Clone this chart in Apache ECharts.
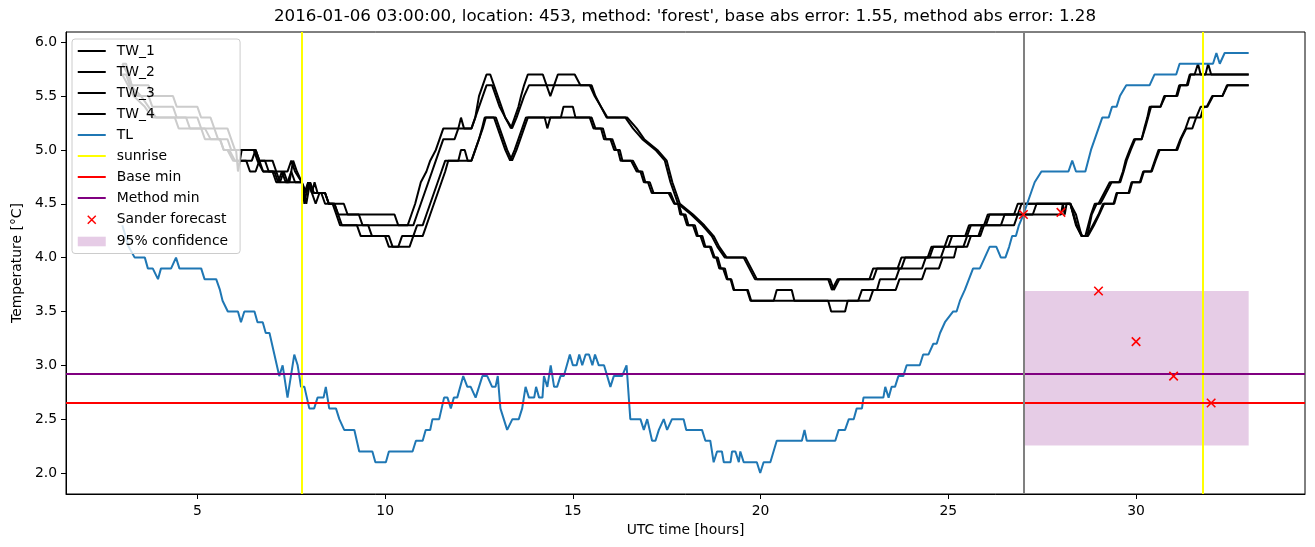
<!DOCTYPE html>
<html>
<head>
<meta charset="utf-8">
<title>Sander forecast</title>
<script src="https://cdn.jsdelivr.net/npm/echarts@6/dist/echarts.min.js"></script>
<style>
html, body { margin: 0; padding: 0; background: #fff; }
#chart { width: 1315px; height: 547px; }
</style>
</head>
<body>
<div id="chart"></div>
<script>
// all values: [UTC hour, temperature degC]
var tw1 = [[3.0,5.8],[3.1,5.8],[3.25,5.6],[3.7,5.6],[3.8,5.5],[4.35,5.5],[4.45,5.4],[5.0,5.4],[5.1,5.3],[5.35,5.3],[5.45,5.2],[5.8,5.2],[5.9,5.1],[6.0,5.0],[6.55,5.0],[6.65,4.9],[7.0,4.9],[7.1,4.8],[7.4,4.8],[7.5,4.9],[7.6,4.8],[7.78,4.7],[7.9,4.5],[8.0,4.7],[8.1,4.6],[8.4,4.6],[8.5,4.5],[8.9,4.5],[9.0,4.4],[10.25,4.4],[10.35,4.3],[10.6,4.3],[10.7,4.4],[10.8,4.5],[10.95,4.7],[11.1,4.8],[11.2,4.9],[11.35,5.0],[11.45,5.1],[11.55,5.2],[11.95,5.2],[12.02,5.3],[12.1,5.2],[12.3,5.2],[12.4,5.3],[12.5,5.5],[12.6,5.6],[12.7,5.7],[12.8,5.7],[12.9,5.6],[13.0,5.5],[13.1,5.4],[13.2,5.3],[13.35,5.2],[13.45,5.3],[13.55,5.4],[13.62,5.5],[13.7,5.6],[13.8,5.7],[14.2,5.7],[14.3,5.6],[14.4,5.5],[14.5,5.6],[14.6,5.7],[15.05,5.7],[15.2,5.6],[15.5,5.6],[15.6,5.5],[15.75,5.4],[15.9,5.3],[16.4,5.3],[16.6,5.2],[16.85,5.1],[17.2,5.0],[17.45,4.9],[17.6,4.7],[17.8,4.5],[18.15,4.4],[18.45,4.3],[18.7,4.2],[18.85,4.1],[19.05,4.0],[19.55,4.0],[19.7,3.9],[19.85,3.8],[21.8,3.8],[21.9,3.7],[22.05,3.8],[22.9,3.8],[23.0,3.9],[23.65,3.9],[23.75,4.0],[24.45,4.0],[24.55,4.1],[24.9,4.1],[25.0,4.2],[25.45,4.2],[25.55,4.3],[25.95,4.3],[26.05,4.4],[26.75,4.4],[26.85,4.5],[28.25,4.5],[28.4,4.3],[28.55,4.2],[28.65,4.2],[28.8,4.4],[28.9,4.5],[29.0,4.5],[29.15,4.6],[29.3,4.7],[29.55,4.7],[29.65,4.8],[29.72,4.9],[29.83,5.0],[29.95,5.1],[30.15,5.1],[30.22,5.2],[30.3,5.3],[30.36,5.4],[30.65,5.4],[30.75,5.5],[31.07,5.5],[31.15,5.6],[31.35,5.6],[31.43,5.7],[31.56,5.7],[31.65,5.8],[31.72,5.7],[31.85,5.7],[31.92,5.8],[32.0,5.7],[33.0,5.7]];
var tw2 = [[3.0,5.8],[3.15,5.7],[3.25,5.6],[3.4,5.5],[3.7,5.5],[3.8,5.4],[4.35,5.4],[4.45,5.3],[5.0,5.3],[5.1,5.2],[5.45,5.2],[5.55,5.1],[5.8,5.1],[5.9,5.0],[6.03,5.0],[6.08,4.8],[6.18,5.0],[6.5,5.0],[6.6,4.9],[6.75,4.8],[7.05,4.8],[7.15,4.7],[7.25,4.8],[7.35,4.7],[7.45,4.7],[7.55,4.9],[7.65,4.8],[7.78,4.7],[7.85,4.6],[7.95,4.7],[8.05,4.6],[8.12,4.7],[8.2,4.6],[8.4,4.6],[8.5,4.5],[8.65,4.5],[8.75,4.4],[9.3,4.4],[9.4,4.3],[10.75,4.3],[10.85,4.4],[10.95,4.5],[11.05,4.6],[11.15,4.7],[11.25,4.8],[11.35,4.9],[11.45,5.0],[11.55,5.1],[11.85,5.1],[11.95,5.2],[12.3,5.2],[12.4,5.3],[12.5,5.4],[12.6,5.5],[12.7,5.6],[12.85,5.6],[12.95,5.5],[13.05,5.4],[13.2,5.3],[13.38,5.2],[13.5,5.3],[13.6,5.4],[13.7,5.5],[13.83,5.6],[15.45,5.6],[15.58,5.5],[15.75,5.4],[15.92,5.3],[16.45,5.3],[16.7,5.2],[16.9,5.1],[17.25,5.0],[17.5,4.9],[17.65,4.7],[17.85,4.5],[18.2,4.4],[18.5,4.3],[18.75,4.2],[18.9,4.1],[19.1,4.0],[19.6,4.0],[19.75,3.9],[19.9,3.8],[21.85,3.8],[21.95,3.7],[22.1,3.8],[23.0,3.8],[23.1,3.9],[23.75,3.9],[23.85,4.0],[24.5,4.0],[24.6,4.1],[25.0,4.1],[25.1,4.2],[25.5,4.2],[25.6,4.3],[26.0,4.3],[26.1,4.4],[26.85,4.4],[26.95,4.5],[28.25,4.5],[28.42,4.3],[28.55,4.2],[28.7,4.2],[28.82,4.4],[28.95,4.5],[29.05,4.5],[29.2,4.6],[29.35,4.7],[29.58,4.7],[29.67,4.8],[29.75,4.9],[29.86,5.0],[29.98,5.1],[30.15,5.1],[30.24,5.2],[30.32,5.3],[30.4,5.4],[30.65,5.4],[30.78,5.5],[31.1,5.5],[31.18,5.6],[31.38,5.6],[31.45,5.7],[33.0,5.7]];
var tw3 = [[3.0,5.7],[3.1,5.7],[3.2,5.6],[3.5,5.5],[3.7,5.4],[3.9,5.3],[4.7,5.3],[4.8,5.2],[5.2,5.2],[5.35,5.1],[5.6,5.1],[5.7,5.0],[5.85,5.0],[6.0,4.9],[6.45,4.9],[6.55,5.0],[6.65,4.9],[6.8,4.9],[6.9,4.8],[7.1,4.8],[7.2,4.7],[7.4,4.7],[7.5,4.8],[7.6,4.7],[7.78,4.7],[7.9,4.6],[8.0,4.7],[8.1,4.6],[8.3,4.6],[8.4,4.5],[8.6,4.5],[8.7,4.4],[8.8,4.3],[9.55,4.3],[9.65,4.2],[10.0,4.2],[10.1,4.1],[10.35,4.1],[10.45,4.2],[10.75,4.2],[10.85,4.3],[11.0,4.3],[11.1,4.4],[11.2,4.5],[11.3,4.6],[11.4,4.7],[11.5,4.8],[11.6,4.9],[11.95,4.9],[12.02,5.0],[12.12,5.0],[12.2,4.9],[12.3,4.9],[12.4,5.0],[12.5,5.1],[12.58,5.2],[12.65,5.3],[12.9,5.3],[13.0,5.2],[13.1,5.1],[13.2,5.0],[13.33,4.9],[13.45,5.0],[13.55,5.1],[13.65,5.2],[13.75,5.3],[14.25,5.3],[14.32,5.2],[14.4,5.3],[14.68,5.3],[14.75,5.4],[15.0,5.4],[15.07,5.3],[15.45,5.3],[15.55,5.2],[15.75,5.2],[15.83,5.1],[16.0,5.1],[16.1,5.0],[16.2,5.0],[16.27,4.9],[16.55,4.9],[16.7,4.8],[16.8,4.8],[16.89,4.7],[17.0,4.7],[17.1,4.6],[17.55,4.6],[17.7,4.5],[17.8,4.5],[17.86,4.4],[17.95,4.4],[18.04,4.3],[18.2,4.3],[18.3,4.2],[18.4,4.2],[18.5,4.1],[18.65,4.1],[18.75,4.0],[18.82,4.0],[18.9,3.9],[19.0,3.9],[19.1,3.8],[19.2,3.8],[19.28,3.7],[19.64,3.7],[19.73,3.6],[20.35,3.6],[20.43,3.7],[20.83,3.7],[20.9,3.6],[22.6,3.6],[22.7,3.7],[23.1,3.7],[23.18,3.8],[23.6,3.8],[23.7,3.9],[24.3,3.9],[24.4,4.0],[24.8,4.0],[24.9,4.1],[25.4,4.1],[25.5,4.2],[25.8,4.2],[25.9,4.3],[26.4,4.3],[26.5,4.4],[27.25,4.4],[27.35,4.5],[28.25,4.5],[28.4,4.4],[28.55,4.2],[28.7,4.2],[28.85,4.3],[29.0,4.4],[29.12,4.5],[29.4,4.5],[29.48,4.6],[29.8,4.6],[29.88,4.7],[30.1,4.7],[30.19,4.8],[30.4,4.8],[30.5,4.9],[30.6,5.0],[31.07,5.0],[31.18,5.1],[31.32,5.2],[31.42,5.3],[31.6,5.3],[31.72,5.4],[31.88,5.4],[32.03,5.5],[32.3,5.5],[32.42,5.6],[33.0,5.6]];
var tw4 = [[3.0,5.7],[3.15,5.6],[3.3,5.5],[3.6,5.4],[3.8,5.3],[4.4,5.3],[4.5,5.2],[5.1,5.2],[5.2,5.1],[5.6,5.1],[5.7,5.0],[5.8,5.0],[5.95,4.9],[6.3,4.9],[6.4,4.8],[6.55,4.8],[6.65,4.9],[6.75,4.8],[7.0,4.8],[7.1,4.7],[7.2,4.7],[7.3,4.8],[7.4,4.7],[7.78,4.7],[7.85,4.5],[7.95,4.7],[8.05,4.6],[8.15,4.5],[8.25,4.6],[8.4,4.6],[8.5,4.5],[8.65,4.5],[8.75,4.4],[8.85,4.3],[9.25,4.3],[9.35,4.2],[10.1,4.2],[10.2,4.1],[10.65,4.1],[10.75,4.2],[11.0,4.2],[11.1,4.3],[11.2,4.4],[11.3,4.5],[11.4,4.6],[11.5,4.7],[11.6,4.8],[11.68,4.9],[12.3,4.9],[12.4,5.0],[12.5,5.1],[12.6,5.2],[12.68,5.3],[12.95,5.3],[13.05,5.2],[13.15,5.1],[13.25,5.0],[13.38,4.9],[13.5,5.0],[13.6,5.1],[13.7,5.2],[13.8,5.3],[15.5,5.3],[15.6,5.2],[15.8,5.2],[15.88,5.1],[16.05,5.1],[16.15,5.0],[16.25,5.0],[16.32,4.9],[16.6,4.9],[16.75,4.8],[16.85,4.8],[16.93,4.7],[17.05,4.7],[17.15,4.6],[17.6,4.6],[17.72,4.5],[17.82,4.5],[17.9,4.4],[18.0,4.4],[18.08,4.3],[18.25,4.3],[18.33,4.2],[18.45,4.2],[18.53,4.1],[18.68,4.1],[18.78,4.0],[18.86,4.0],[18.94,3.9],[19.05,3.9],[19.12,3.8],[19.22,3.8],[19.3,3.7],[19.66,3.7],[19.75,3.6],[21.8,3.6],[21.88,3.5],[22.25,3.5],[22.32,3.6],[22.9,3.6],[23.0,3.7],[23.6,3.7],[23.7,3.8],[24.3,3.8],[24.4,3.9],[24.75,3.9],[24.85,4.0],[25.15,4.0],[25.22,4.1],[25.5,4.1],[25.6,4.2],[25.85,4.2],[25.95,4.3],[26.75,4.3],[26.85,4.4],[28.0,4.4],[28.05,4.5],[28.1,4.4],[28.15,4.5],[28.25,4.5],[28.42,4.3],[28.57,4.2],[28.72,4.2],[28.88,4.3],[29.02,4.4],[29.15,4.5],[29.42,4.5],[29.5,4.6],[29.82,4.6],[29.9,4.7],[30.12,4.7],[30.21,4.8],[30.42,4.8],[30.52,4.9],[30.63,5.0],[31.1,5.0],[31.2,5.1],[31.34,5.2],[31.5,5.2],[31.6,5.3],[31.72,5.3],[31.8,5.4],[31.9,5.4],[32.05,5.5],[32.3,5.5],[32.44,5.6],[33.0,5.6]];
var tl = [[3.0,4.3],[3.17,4.1],[3.33,4.0],[3.6,4.0],[3.68,3.9],[3.81,3.9],[3.95,3.8],[4.03,3.9],[4.3,3.9],[4.43,4.0],[4.52,3.9],[5.1,3.9],[5.19,3.8],[5.5,3.8],[5.6,3.7],[5.67,3.6],[5.81,3.5],[6.08,3.5],[6.16,3.4],[6.25,3.5],[6.52,3.5],[6.6,3.4],[6.74,3.4],[6.82,3.3],[6.92,3.3],[7.05,3.1],[7.18,2.9],[7.27,3.0],[7.4,2.7],[7.58,3.1],[7.67,3.0],[7.76,2.8],[7.85,2.8],[7.98,2.6],[8.11,2.6],[8.2,2.7],[8.36,2.7],[8.42,2.8],[8.51,2.6],[8.69,2.6],[8.78,2.5],[8.91,2.4],[9.18,2.4],[9.31,2.2],[9.66,2.2],[9.74,2.1],[10.02,2.1],[10.1,2.2],[10.73,2.2],[10.82,2.3],[11.0,2.3],[11.08,2.4],[11.2,2.4],[11.26,2.5],[11.44,2.5],[11.57,2.7],[11.66,2.7],[11.75,2.6],[11.83,2.7],[11.92,2.7],[12.08,2.9],[12.19,2.8],[12.28,2.8],[12.41,2.7],[12.59,2.9],[12.72,2.9],[12.85,2.8],[12.94,2.8],[13.0,2.9],[13.07,2.6],[13.25,2.4],[13.39,2.5],[13.56,2.5],[13.65,2.6],[13.74,2.8],[13.83,2.7],[13.97,2.7],[14.02,2.8],[14.1,2.7],[14.19,2.7],[14.23,2.9],[14.32,2.8],[14.41,3.0],[14.5,2.8],[14.58,2.8],[14.67,2.9],[14.76,2.9],[14.92,3.1],[15.0,3.0],[15.1,3.0],[15.17,3.1],[15.25,3.0],[15.34,3.1],[15.43,3.1],[15.52,3.0],[15.59,3.1],[15.69,3.0],[15.83,3.0],[16.0,2.8],[16.09,2.9],[16.31,2.9],[16.43,3.0],[16.53,2.5],[16.8,2.5],[16.89,2.4],[16.98,2.5],[17.11,2.3],[17.2,2.3],[17.29,2.4],[17.42,2.5],[17.51,2.4],[17.64,2.5],[17.95,2.5],[18.02,2.4],[18.44,2.4],[18.53,2.3],[18.66,2.3],[18.75,2.1],[18.84,2.2],[18.97,2.2],[19.02,2.1],[19.2,2.1],[19.24,2.2],[19.33,2.2],[19.42,2.1],[19.46,2.2],[19.55,2.1],[19.9,2.1],[19.99,2.0],[20.08,2.1],[20.26,2.1],[20.43,2.3],[21.1,2.3],[21.17,2.4],[21.23,2.3],[21.99,2.3],[22.08,2.4],[22.25,2.4],[22.35,2.5],[22.48,2.5],[22.56,2.6],[22.7,2.6],[22.74,2.7],[23.27,2.7],[23.32,2.8],[23.41,2.7],[23.49,2.8],[23.58,2.8],[23.67,2.9],[23.8,2.9],[23.89,3.0],[24.24,3.0],[24.33,3.1],[24.47,3.1],[24.6,3.2],[24.69,3.2],[24.78,3.3],[24.91,3.4],[25.13,3.5],[25.22,3.5],[25.31,3.6],[25.44,3.7],[25.48,3.7],[25.66,3.9],[25.84,3.9],[25.97,4.0],[26.1,4.1],[26.28,4.1],[26.4,4.0],[26.52,4.0],[26.62,4.1],[26.7,4.2],[26.8,4.2],[26.88,4.3],[27.0,4.4],[27.1,4.5],[27.2,4.6],[27.3,4.7],[27.48,4.8],[28.2,4.8],[28.3,4.9],[28.4,4.8],[28.65,4.8],[28.8,5.0],[28.9,5.1],[29.0,5.2],[29.1,5.3],[29.27,5.3],[29.36,5.4],[29.48,5.4],[29.57,5.5],[29.74,5.6],[30.36,5.6],[30.49,5.7],[31.07,5.7],[31.16,5.8],[32.05,5.8],[32.14,5.9],[32.23,5.8],[32.36,5.9],[33.0,5.9]];

var forecastHours = [27, 28, 29, 30, 31, 32];
var forecastValues = [4.40, 4.42, 3.69, 3.22, 2.90, 2.65];
var sunriseHours = [7.78, 31.78];
var baseMin = 2.65;
var methodMin = 2.92;
var forecastStart = 27;
var confidence = { from: 27, to: 33, low: 2.255, high: 3.69 };

var xTicks = [5, 10, 15, 20, 25, 30];
var yTicks = [2.0, 2.5, 3.0, 3.5, 4.0, 4.5, 5.0, 5.5, 6.0];

var titleText = "2016-01-06 03:00:00, location: 453, method: 'forest', base abs error: 1.55, method abs error: 1.28";

var FONT = 'DejaVu Sans';

// legend handles, 28x14 box (corner points only fix the box size)
var BOX = 'M0,0L0,0M28,14L28,14';
var lineIcon = 'path://' + BOX + 'M0,6L28,6L28,8L0,8Z';
var crossIcon = 'path://' + BOX + 'M10,3L18,11M18,3L10,11';
var patchIcon = 'path://' + BOX + 'M0,2.2L28,2.2L28,11.8L0,11.8Z';

function lineSeries(name, data, color) {
    return {
        name: name,
        type: 'line',
        data: data,
        color: color,
        showSymbol: false,
        symbol: 'none',
        lineStyle: { width: 2, color: color },
        z: 3
    };
}

var chart = echarts.init(document.getElementById('chart'));

var option = {
    animation: false,
    backgroundColor: '#fff',
    title: {
        text: titleText,
        left: 685,
        top: 8,
        padding: 0,
        textAlign: 'center',
        textStyle: { fontFamily: FONT, fontSize: 16.7, fontWeight: 'normal', color: '#000' }
    },
    grid: {
        left: 66, right: 10, top: 32, bottom: 53,
        show: true, borderColor: '#000', borderWidth: 1, backgroundColor: 'transparent'
    },
    legend: {
        orient: 'vertical',
        left: 72,
        top: 39,
        itemWidth: 28,
        itemHeight: 14,
        itemGap: 7,
        padding: [5, 12, 5, 5],
        backgroundColor: 'rgba(255,255,255,0.8)',
        borderColor: '#cccccc',
        borderWidth: 1,
        borderRadius: 3,
        selectedMode: false,
        z: 20,
        itemStyle: { borderWidth: 0 },
        textStyle: { fontFamily: FONT, fontSize: 13.9, color: '#000', padding: [0, 0, 0, 6] },
        data: [
            { name: 'TW_1', icon: lineIcon, itemStyle: { color: '#000' } },
            { name: 'TW_2', icon: lineIcon, itemStyle: { color: '#000' } },
            { name: 'TW_3', icon: lineIcon, itemStyle: { color: '#000' } },
            { name: 'TW_4', icon: lineIcon, itemStyle: { color: '#000' } },
            { name: 'TL', icon: lineIcon, itemStyle: { color: '#1f77b4' } },
            { name: 'sunrise', icon: lineIcon, itemStyle: { color: '#ffff00' } },
            { name: 'Base min', icon: lineIcon, itemStyle: { color: '#ff0000' } },
            { name: 'Method min', icon: lineIcon, itemStyle: { color: '#800080' } },
            { name: 'Sander forecast', icon: crossIcon, itemStyle: { color: '#ff0000', borderColor: '#ff0000', borderWidth: 1.5 } },
            { name: '95% confidence', icon: patchIcon, itemStyle: { color: 'rgba(128,0,128,0.2)' } }
        ]
    },
    xAxis: {
        type: 'value',
        min: 1.5,
        max: 34.5,
        name: 'UTC time [hours]',
        nameLocation: 'middle',
        nameGap: 29,
        nameTextStyle: { fontFamily: FONT, fontSize: 13.9, color: '#000' },
        splitLine: { show: false },
        axisLine: { onZero: false, lineStyle: { color: '#000', width: 1 } },
        axisTick: { inside: false, length: 5, lineStyle: { color: '#000' }, customValues: xTicks },
        axisLabel: { customValues: xTicks, margin: 10, color: '#000', fontFamily: FONT, fontSize: 13.9 }
    },
    yAxis: {
        type: 'value',
        min: 1.805,
        max: 6.095,
        name: 'Temperature [°C]',
        nameLocation: 'middle',
        nameGap: 41,
        nameTextStyle: { fontFamily: FONT, fontSize: 13.9, color: '#000' },
        splitLine: { show: false },
        axisLine: { onZero: false, lineStyle: { color: '#000', width: 1 } },
        axisTick: { inside: false, length: 5, lineStyle: { color: '#000' }, customValues: yTicks },
        axisLabel: {
            customValues: yTicks, margin: 9, color: '#000', fontFamily: FONT, fontSize: 13.9,
            formatter: function (v) { return v.toFixed(1); }
        }
    },
    series: [
        {
            name: '95% confidence',
            type: 'line',
            data: [],
            color: 'rgba(128,0,128,0.2)',
            z: 1,
            markArea: {
                silent: true,
                itemStyle: { color: 'rgba(128,0,128,0.2)' },
                data: [[
                    { xAxis: confidence.from, yAxis: confidence.low },
                    { xAxis: confidence.to, yAxis: confidence.high }
                ]]
            }
        },
        lineSeries('TW_1', tw1, '#000'),
        lineSeries('TW_2', tw2, '#000'),
        lineSeries('TW_3', tw3, '#000'),
        lineSeries('TW_4', tw4, '#000'),
        lineSeries('TL', tl, '#1f77b4'),
        {
            name: 'sunrise',
            type: 'line',
            data: [],
            color: '#ffff00',
            z: 4,
            markLine: {
                silent: true, symbol: ['none', 'none'], label: { show: false },
                lineStyle: { color: '#ffff00', width: 2, type: 'solid' },
                data: sunriseHours.map(function (h) { return { xAxis: h }; })
            }
        },
        {
            name: 'Base min',
            type: 'line',
            data: [],
            color: '#ff0000',
            z: 4,
            markLine: {
                silent: true, symbol: ['none', 'none'], label: { show: false },
                lineStyle: { color: '#ff0000', width: 2, type: 'solid' },
                data: [{ yAxis: baseMin }]
            }
        },
        {
            name: 'Method min',
            type: 'line',
            data: [],
            color: '#800080',
            z: 4,
            markLine: {
                silent: true, symbol: ['none', 'none'], label: { show: false },
                lineStyle: { color: '#800080', width: 2, type: 'solid' },
                data: [{ yAxis: methodMin }]
            }
        },
        {
            name: 'forecast start',
            type: 'line',
            data: [],
            color: '#808080',
            z: 4,
            markLine: {
                silent: true, symbol: ['none', 'none'], label: { show: false },
                lineStyle: { color: '#808080', width: 2, type: 'solid' },
                data: [{ xAxis: forecastStart }]
            }
        },
        {
            name: 'Sander forecast',
            type: 'scatter',
            data: forecastHours.map(function (h, i) { return [h, forecastValues[i]]; }),
            symbol: 'path://M0,0L10,10M10,0L0,10',
            symbolSize: 8.5,
            color: '#ff0000',
            itemStyle: { color: '#ff0000', borderColor: '#ff0000', borderWidth: 1.6, opacity: 1 },
            z: 6
        }
    ]
};

chart.setOption(option);
</script>
</body>
</html>
